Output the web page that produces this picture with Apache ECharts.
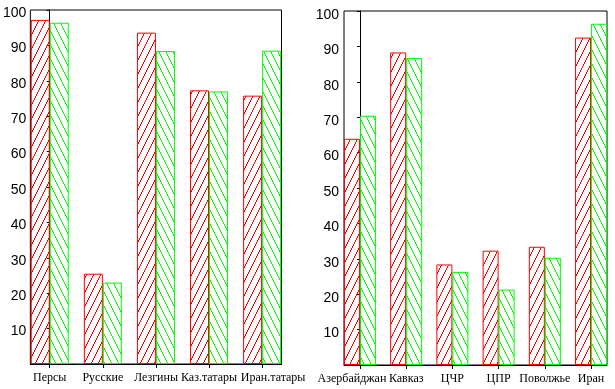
<!DOCTYPE html>
<html><head><meta charset="utf-8">
<script src="https://cdn.jsdelivr.net/npm/echarts@6/dist/echarts.min.js"></script>
<style>html,body{margin:0;padding:0;background:#fff}#c{width:615px;height:389px}</style>
</head><body><div id="c"></div><script>
const leftCategories = ['Персы', 'Русские', 'Лезгины', 'Каз.татары', 'Иран.татары'];
const leftRed = [97.2, 25.5, 93.6, 77.3, 75.8];
const leftGreen = [96.4, 23.0, 88.4, 77.0, 88.5];
const rightCategories = ['Азербайджан', 'Кавказ', 'ЦЧР', 'ЦПР', 'Поволжье', 'Иран'];
const rightRed = [63.9, 88.3, 28.4, 32.3, 33.4, 92.5];
const rightGreen = [70.4, 86.7, 26.3, 21.3, 30.3, 96.4];
const yMin = 0, yMax = 100, yStep = 10;

function hatch(color, dir) {
  const w = 7, h = 14;
  const c = document.createElement('canvas');
  c.width = w; c.height = h;
  const ctx = c.getContext('2d');
  ctx.fillStyle = color;
  for (let y = 0; y < h; y++) {
    const x = dir > 0 ? Math.floor((h - 1 - y) / 2) : Math.floor(y / 2);
    ctx.fillRect(x, y, 1, 1);
  }
  return { image: c, repeat: 'repeat' };
}
const redPat = hatch('#ff0000', 1);
const greenPat = hatch('#00ff00', -1);

const chart = echarts.init(document.getElementById('c'), null, { renderer: 'canvas' });
const idx = arr => arr.map((_, i) => i);

// per-label horizontal nudges (to avoid overlap as in the original)
const labelStyleFor = {
  'Азербайджан': 'l',
  'Иран.татары': 'r'
};

function xAxis(gi, cats, pad) {
  return {
    type: 'value', gridIndex: gi, min: -pad, max: cats.length - 1 + pad,
    axisLine: { show: true, lineStyle: { color: '#000', width: 1 } },
    axisTick: { show: true, length: 4, customValues: idx(cats), lineStyle: { color: '#000' } },
    axisLabel: {
      customValues: idx(cats), margin: 8, hideOverlap: false,
      showMinLabel: true, showMaxLabel: true,
      formatter: v => {
        const t = cats[Math.round(v)] || '';
        const s = labelStyleFor[t] || 'n';
        return '{' + s + '|' + t + '}';
      },
      fontFamily: 'Liberation Serif', fontSize: 12, color: '#000',
      rich: {
        n: { fontFamily: 'Liberation Serif', fontSize: 12, color: '#000' },
        l: { fontFamily: 'Liberation Serif', fontSize: 12, color: '#000', padding: [0, 16, 0, 0] },
        r: { fontFamily: 'Liberation Serif', fontSize: 12, color: '#000', padding: [0, 0, 0, 22] }
      }
    },
    splitLine: { show: false }
  };
}
function yAxis(gi, margin, shift) {
  return {
    type: 'value', gridIndex: gi, min: yMin, max: yMax, interval: yStep,
    axisLine: { show: true, lineStyle: { color: '#000', width: 1 } },
    axisTick: { show: true, length: 3, lineStyle: { color: '#000' } },
    axisLabel: {
      margin: margin, formatter: v => (v === 0 ? '' : '\n' + v),
      fontFamily: 'Liberation Sans', fontSize: 14, color: '#000',
      lineHeight: shift * 2
    },
    splitLine: { show: false }
  };
}
function bars(gi, vals, pat, col, bw) {
  return {
    type: 'bar', xAxisIndex: gi, yAxisIndex: gi, barWidth: bw, barGap: '0%',
    data: vals.map((v, i) => [i, v]),
    itemStyle: { color: pat, borderColor: col, borderWidth: 1 },
    animation: false
  };
}

chart.setOption({
  backgroundColor: '#fff',
  animation: false,
  grid: [
    { left: 29, top: 7, right: 333.5, bottom: 25, show: true, borderColor: '#000', borderWidth: 1, backgroundColor: 'transparent', containLabel: false },
    { left: 344, top: 6, right: 8, bottom: 24, show: true, borderColor: '#000', borderWidth: 1, backgroundColor: 'transparent', containLabel: false }
  ],
  xAxis: [xAxis(0, leftCategories, 0.365), xAxis(1, rightCategories, 0.345)],
  yAxis: [yAxis(0, 4, 3), yAxis(1, 5, 4)],
  series: [
    bars(0, leftRed, redPat, '#ff0000', 19),
    bars(0, leftGreen, greenPat, '#00ff00', 19),
    bars(1, rightRed, redPat, '#ff0000', 16),
    bars(1, rightGreen, greenPat, '#00ff00', 16)
  ]
});
</script></body></html>
